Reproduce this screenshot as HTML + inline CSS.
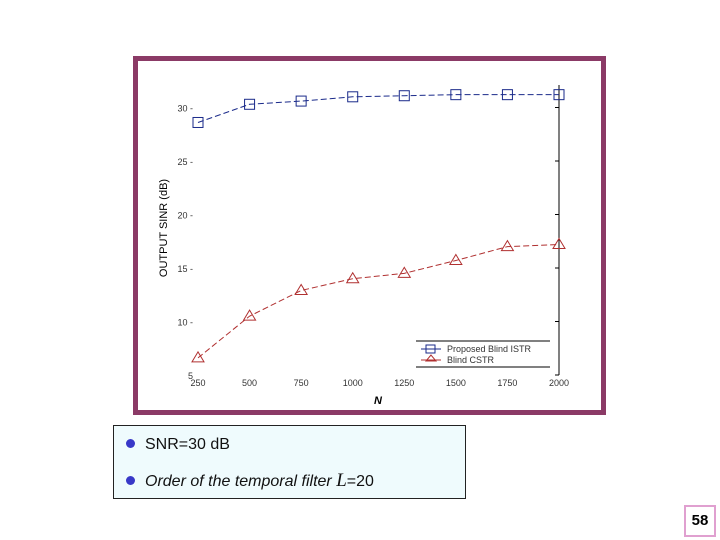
<!DOCTYPE html>
<html><head><meta charset="utf-8"><style>
body{margin:0;width:720px;height:540px;background:#fff;position:relative;overflow:hidden;font-family:"Liberation Sans",sans-serif}
#frame{position:absolute;left:133px;top:56px;width:463px;height:349px;border:5px solid #8b3a66;background:#fff}
#note{position:absolute;left:113px;top:425px;width:351px;height:72px;border:1px solid #222;background:#effbfd;font-size:16px;color:#111}
#note div{position:absolute;left:12px}
.dot{display:inline-block;width:9px;height:9px;border-radius:50%;background:#3838c8;margin-right:10px;vertical-align:1px}
#pg{position:absolute;left:684px;top:505px;width:28px;height:28px;border:2px solid #e0a0d0;font-size:15px;font-weight:bold;text-align:center;line-height:28px}
</style></head><body>
<div id="frame"></div>
<svg id="chart" width="720" height="540" style="position:absolute;left:0;top:0"></svg>
<div id="note">
<div style="top:10px"><span class="dot"></span>SNR=30 dB</div>
<div style="top:44px"><span class="dot"></span><i>Order of the temporal filter</i> <i style="font-family:'Liberation Serif',serif;font-size:19px">L</i>=20</div>
</div>
<div id="pg">58</div>
<script>
const categories=[250,500,750,1000,1250,1500,1750,2000];
const proposedSINR=[28.6,30.3,30.6,31.0,31.1,31.2,31.2,31.2];
const blindCSTR=[6.6,10.5,12.9,14.0,14.5,15.7,17.0,17.2];
const yTicks=[5,10,15,20,25,30];
const xTicks=[250,500,750,1000,1250,1500,1750,2000];
const svg=document.getElementById('chart');const NS='http://www.w3.org/2000/svg';
const X=v=>198+(v-250)/(1750)*361;const Y=v=>375-(v-5)*10.7;
function el(t,a,p){const e=document.createElementNS(NS,t);for(const k in a)e.setAttribute(k,a[k]);(p||svg).appendChild(e);return e;}
let e=el('line',{x1:559,y1:85,x2:559,y2:375,stroke:'#000','stroke-width':1});

yTicks.forEach(v=>{const t=el('text',{x:193,y:Y(v)+4,'font-size':9,'text-anchor':'end',fill:'#333'});t.textContent=v+(v>5?' -':'');

const l=el('line',{x1:555,y1:Y(v),x2:559,y2:Y(v),stroke:'#000'});});
xTicks.forEach(v=>{const t=el('text',{x:X(v),y:386,'font-size':9,'text-anchor':'middle',fill:'#333'});t.textContent=v;
});
let yt=el('text',{x:167,y:228,'font-size':11,'text-anchor':'middle',transform:'rotate(-90 167 228)'});yt.textContent='OUTPUT SINR (dB)';

let xt=el('text',{x:378,y:404,'font-size':11,'font-style':'italic','font-weight':'bold','text-anchor':'middle'});xt.textContent='N';

function series(vals,color,shape,name){
 const p=el('polyline',{points:vals.map((v,i)=>X(categories[i])+','+Y(v)).join(' '),fill:'none',stroke:color,'stroke-width':1,'stroke-dasharray':'6,3'});
 
 vals.forEach((v,i)=>{const x=X(categories[i]),y=Y(v);let m;
  if(shape==='sq')m=el('rect',{x:x-5,y:y-5,width:10,height:10,fill:'none',stroke:color});
  else m=el('polygon',{points:`${x},${y-6} ${x-6},${y+4} ${x+6},${y+4}`,fill:'none',stroke:color});
  });
}
series(proposedSINR,'#1a2a8a','sq','proposed-blind');
series(blindCSTR,'#b03030','tri','blind-cstr');
const lg=el('g',{});
el('line',{x1:416,y1:341,x2:550,y2:341,stroke:'#000'},lg);el('line',{x1:416,y1:367,x2:550,y2:367,stroke:'#000'},lg);
el('line',{x1:421,y1:349,x2:441,y2:349,stroke:'#1a2a8a'},lg);el('rect',{x:426,y:345,width:9,height:8,fill:'none',stroke:'#1a2a8a'},lg);
el('line',{x1:421,y1:360,x2:441,y2:360,stroke:'#b03030'},lg);el('polygon',{points:'431,355 426,361 436,361',fill:'none',stroke:'#b03030'},lg);
let t1=el('text',{x:447,y:352,'font-size':9,fill:'#333'},lg);t1.textContent='Proposed Blind ISTR';

let t2=el('text',{x:447,y:363,'font-size':9,fill:'#333'},lg);t2.textContent='Blind CSTR';

</script>
</body></html>
